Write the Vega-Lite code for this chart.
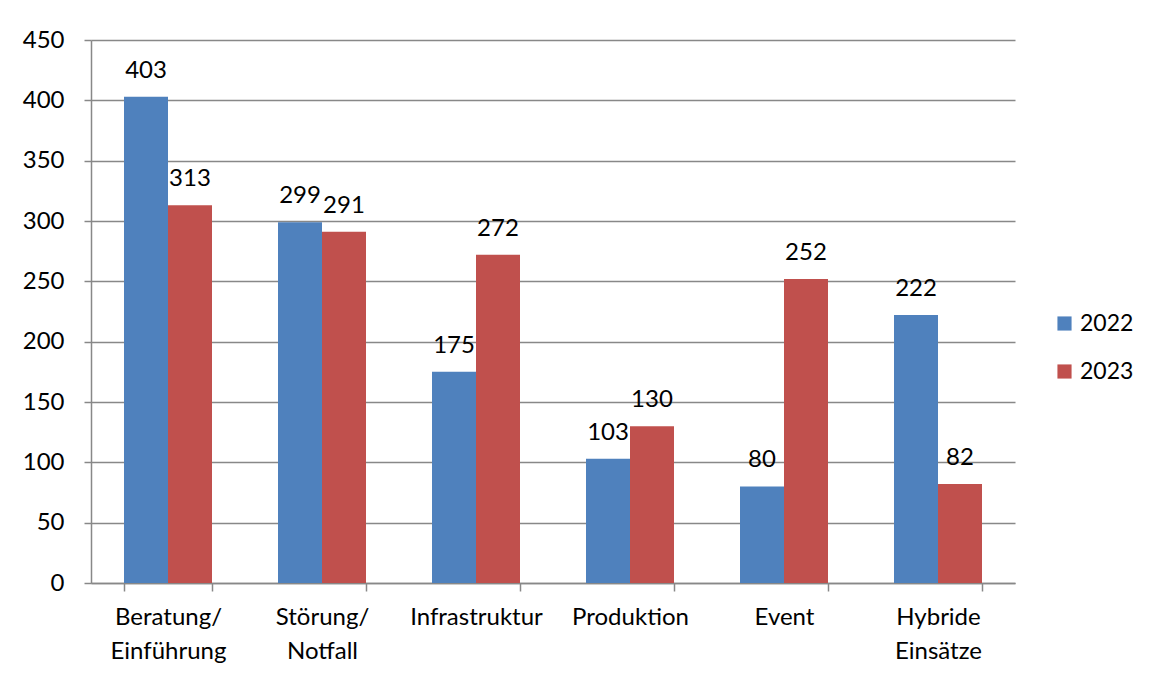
{
  "$schema": "https://vega.github.io/schema/vega-lite/v6.json",
  "autosize": "none",
  "width": 924,
  "height": 543,
  "padding": {"left": 91, "top": 40, "right": 135, "bottom": 92},
  "background": "white",
  "config": {
    "font": "Lato",
    "view": {"stroke": null},
    "axis": {"labelFont": "Lato", "labelColor": "#000000", "labelFontSize": 24, "domainColor": "#888888", "tickColor": "#888888", "gridColor": "#888888", "domainWidth": 1.5, "tickWidth": 1.5, "gridWidth": 1.5}
  },
  "data": {
    "values": [
      {"cat": "Beratung/ Einführung", "year": "2022", "value": 403},
      {"cat": "Beratung/ Einführung", "year": "2023", "value": 313},
      {"cat": "Störung/ Notfall", "year": "2022", "value": 299},
      {"cat": "Störung/ Notfall", "year": "2023", "value": 291},
      {"cat": "Infrastruktur", "year": "2022", "value": 175},
      {"cat": "Infrastruktur", "year": "2023", "value": 272},
      {"cat": "Produktion", "year": "2022", "value": 103},
      {"cat": "Produktion", "year": "2023", "value": 130},
      {"cat": "Event", "year": "2022", "value": 80},
      {"cat": "Event", "year": "2023", "value": 252},
      {"cat": "Hybride Einsätze", "year": "2022", "value": 222},
      {"cat": "Hybride Einsätze", "year": "2023", "value": 82}
    ]
  },
  "encoding": {
    "x": {
      "field": "cat", "type": "nominal", "sort": null, "title": null,
      "scale": {"paddingInner": 0.4286, "paddingOuter": 0.2143},
      "axis": {"labelAngle": 0, "labelExpr": "split(datum.label, ' ')", "labelLineHeight": 34, "tickBand": "extent", "tickSize": 8, "labelPadding": 14, "grid": false, "labelBaseline": "top"}
    },
    "xOffset": {"field": "year", "type": "nominal", "scale": {"paddingInner": 0, "paddingOuter": 0}},
    "y": {
      "field": "value", "type": "quantitative", "title": null,
      "scale": {"domain": [0, 450], "nice": false},
      "axis": {"values": [0, 50, 100, 150, 200, 250, 300, 350, 400, 450], "tickSize": 7, "labelPadding": 20, "grid": true}
    }
  },
  "layer": [
    {
      "mark": {"type": "bar"},
      "encoding": {
        "color": {
          "field": "year", "type": "nominal", "title": null,
          "scale": {"domain": ["2022", "2023"], "range": ["#4F81BD", "#C0504D"]},
          "legend": {"orient": "none", "legendX": 962, "legendY": 272, "symbolType": "square", "symbolSize": 200, "labelFontSize": 23, "labelFont": "Lato", "labelColor": "#000000", "rowPadding": 24, "labelOffset": 4}
        }
      }
    },
    {
      "mark": {"type": "text", "baseline": "alphabetic", "dy": -19, "fontSize": 24, "font": "Lato", "color": "#000000"},
      "encoding": {"text": {"field": "value", "type": "quantitative"}}
    }
  ]
}
